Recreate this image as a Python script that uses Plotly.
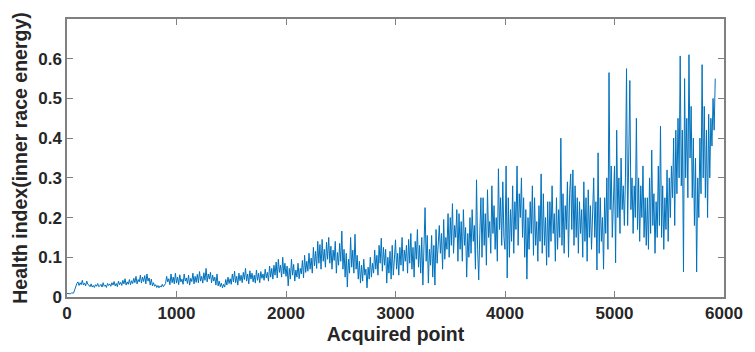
import plotly.graph_objects as go

# Inner race energy health index, one value every 10 acquired points
STEP = 10

hi_0000 = [
    0.009, 0.008, 0.009, 0.008, 0.010, 0.009, 0.010, 0.018, 0.030, 0.034,
    0.038, 0.029, 0.036, 0.031, 0.042, 0.030, 0.035, 0.028, 0.040, 0.032,
    0.030, 0.026, 0.033, 0.025, 0.029, 0.024, 0.031, 0.027, 0.034, 0.026,
    0.028, 0.032, 0.025, 0.036, 0.027, 0.030, 0.024, 0.034, 0.029, 0.033,
    0.027, 0.036, 0.030, 0.039, 0.028, 0.034, 0.026, 0.040, 0.031, 0.037,
    0.029, 0.042, 0.033, 0.046, 0.030, 0.038, 0.032, 0.044, 0.031, 0.041,
    0.034, 0.047, 0.036, 0.052, 0.033, 0.044, 0.038, 0.055, 0.035, 0.050,
    0.039, 0.054, 0.033, 0.058, 0.040, 0.048, 0.030, 0.045, 0.028, 0.036,
    0.027, 0.031, 0.024, 0.029, 0.023, 0.028, 0.025, 0.032, 0.026, 0.030,
    0.034, 0.052, 0.038, 0.046, 0.031, 0.058, 0.036, 0.050, 0.033, 0.060,
]

hi_1000 = [
    0.035, 0.050, 0.031, 0.056, 0.038, 0.045, 0.032, 0.058, 0.040, 0.048,
    0.034, 0.055, 0.030, 0.047, 0.039, 0.060, 0.033, 0.052, 0.037, 0.057,
    0.036, 0.064, 0.040, 0.052, 0.035, 0.061, 0.042, 0.072, 0.038, 0.058,
    0.045, 0.062, 0.036, 0.055, 0.040, 0.050, 0.030, 0.058, 0.028, 0.040,
    0.026, 0.035, 0.023, 0.032, 0.025, 0.044, 0.030, 0.050, 0.034, 0.046,
    0.032, 0.058, 0.038, 0.065, 0.036, 0.052, 0.030, 0.060, 0.041, 0.055,
    0.036, 0.062, 0.044, 0.072, 0.040, 0.058, 0.033, 0.066, 0.045, 0.060,
    0.038, 0.055, 0.035, 0.068, 0.042, 0.060, 0.036, 0.064, 0.047, 0.058,
    0.042, 0.070, 0.048, 0.062, 0.040, 0.078, 0.050, 0.072, 0.045, 0.080,
    0.055, 0.088, 0.048, 0.095, 0.062, 0.080, 0.050, 0.100, 0.058, 0.085,
]

hi_2000 = [
    0.052, 0.078, 0.028, 0.072, 0.045, 0.095, 0.055, 0.082, 0.040, 0.068,
    0.050, 0.085, 0.046, 0.072, 0.058, 0.092, 0.048, 0.105, 0.062, 0.090,
    0.065, 0.110, 0.070, 0.098, 0.060, 0.125, 0.078, 0.115, 0.072, 0.140,
    0.085, 0.132, 0.070, 0.145, 0.090, 0.120, 0.075, 0.138, 0.095, 0.150,
    0.085, 0.128, 0.070, 0.118, 0.092, 0.140, 0.060, 0.112, 0.080, 0.135,
    0.090, 0.166, 0.070, 0.120, 0.050, 0.110, 0.025, 0.095, 0.060, 0.150,
    0.075, 0.118, 0.060, 0.158, 0.070, 0.105, 0.045, 0.090, 0.035, 0.080,
    0.040, 0.095, 0.055, 0.070, 0.023, 0.075, 0.045, 0.100, 0.050, 0.085,
    0.060, 0.118, 0.070, 0.105, 0.055, 0.130, 0.085, 0.148, 0.065, 0.125,
    0.080, 0.120, 0.035, 0.100, 0.060, 0.115, 0.045, 0.130, 0.055, 0.095,
]

hi_3000 = [
    0.144, 0.070, 0.110, 0.055, 0.125, 0.080, 0.150, 0.065, 0.118, 0.090,
    0.130, 0.060, 0.145, 0.085, 0.160, 0.070, 0.125, 0.050, 0.140, 0.095,
    0.170, 0.075, 0.130, 0.060, 0.150, 0.030, 0.140, 0.225, 0.090, 0.155,
    0.035, 0.120, 0.080, 0.155, 0.050, 0.130, 0.030, 0.170, 0.085, 0.145,
    0.180, 0.110, 0.160, 0.070, 0.195, 0.095, 0.150, 0.120, 0.210, 0.100,
    0.200, 0.130, 0.235, 0.110, 0.180, 0.150, 0.220, 0.090, 0.210, 0.120,
    0.190, 0.090, 0.220, 0.130, 0.175, 0.050, 0.160, 0.100, 0.200, 0.110,
    0.220, 0.140, 0.180, 0.070, 0.295, 0.120, 0.043, 0.160, 0.250, 0.100,
    0.250, 0.130, 0.210, 0.080, 0.270, 0.150, 0.190, 0.110, 0.280, 0.160,
    0.230, 0.120, 0.200, 0.090, 0.323, 0.170, 0.250, 0.130, 0.290, 0.150,
]

hi_4000 = [
    0.120, 0.330, 0.048, 0.250, 0.100, 0.220, 0.140, 0.280, 0.110, 0.240,
    0.170, 0.330, 0.130, 0.260, 0.200, 0.300, 0.150, 0.250, 0.100, 0.220,
    0.045, 0.200, 0.120, 0.240, 0.160, 0.280, 0.105, 0.250, 0.130, 0.190,
    0.090, 0.230, 0.140, 0.310, 0.110, 0.260, 0.130, 0.200, 0.080, 0.240,
    0.100, 0.240, 0.140, 0.280, 0.160, 0.210, 0.090, 0.250, 0.120, 0.220,
    0.150, 0.400, 0.130, 0.260, 0.110, 0.230, 0.170, 0.290, 0.100, 0.260,
    0.310, 0.170, 0.320, 0.130, 0.280, 0.150, 0.250, 0.110, 0.240, 0.160,
    0.220, 0.100, 0.290, 0.140, 0.250, 0.090, 0.270, 0.150, 0.230, 0.120,
    0.240, 0.300, 0.150, 0.240, 0.068, 0.363, 0.110, 0.250, 0.140, 0.200,
    0.070, 0.250, 0.160, 0.300, 0.120, 0.565, 0.220, 0.330, 0.150, 0.280,
]

hi_5000 = [
    0.330, 0.086, 0.420, 0.200, 0.300, 0.160, 0.350, 0.220, 0.280, 0.180,
    0.300, 0.575, 0.180, 0.350, 0.545, 0.220, 0.300, 0.160, 0.280, 0.200,
    0.450, 0.170, 0.300, 0.140, 0.280, 0.200, 0.330, 0.150, 0.250, 0.130,
    0.250, 0.120, 0.300, 0.160, 0.370, 0.180, 0.260, 0.110, 0.240, 0.150,
    0.330, 0.180, 0.430, 0.150, 0.280, 0.120, 0.250, 0.170, 0.320, 0.140,
    0.300, 0.200, 0.330, 0.250, 0.400, 0.180, 0.420, 0.260, 0.450, 0.300,
    0.607, 0.280, 0.420, 0.063, 0.550, 0.300, 0.450, 0.250, 0.610, 0.350,
    0.480, 0.250, 0.400, 0.180, 0.350, 0.063, 0.300, 0.200, 0.400, 0.260,
    0.585, 0.300, 0.480, 0.250, 0.420, 0.200, 0.460, 0.300, 0.450, 0.380,
    0.500, 0.420, 0.550,
]

health_index = hi_0000 + hi_1000 + hi_2000 + hi_3000 + hi_4000 + hi_5000
acquired_point = [i * STEP for i in range(len(health_index))]

x_ticks = [0, 1000, 2000, 3000, 4000, 5000, 6000]
y_ticks = [0, 0.1, 0.2, 0.3, 0.4, 0.5, 0.6]

TEXT = "#262626"
AXIS = "#808080"
FONT = "Liberation Sans, Arial, sans-serif"

fig = go.Figure(
    go.Scatter(
        x=acquired_point,
        y=health_index,
        mode="lines",
        line=dict(color="#0072BD", width=1.0),
        showlegend=False,
    )
)

axis_common = dict(
    showline=True,
    linecolor=AXIS,
    linewidth=1.5,
    mirror="ticks",
    ticks="inside",
    ticklen=6,
    tickwidth=1.2,
    tickcolor=AXIS,
    showgrid=False,
    zeroline=False,
    tickfont=dict(family=FONT, size=17, color=TEXT, weight="bold"),
)

fig.update_xaxes(
    range=[0, 6000],
    tickvals=x_ticks,
    ticktext=[str(v) for v in x_ticks],
    title=dict(text="<b>Acquired point</b>", font=dict(family=FONT, size=19.5, color=TEXT), standoff=3),
    **axis_common,
)
fig.update_yaxes(
    range=[0, 0.7],
    tickvals=y_ticks,
    ticktext=["0" if v == 0 else f"{v:.1f}" for v in y_ticks],
    title=dict(text="<b>Health index(inner race energy)</b>", font=dict(family=FONT, size=19.5, color=TEXT), standoff=5),
    **axis_common,
)

fig.update_layout(
    width=755,
    height=352,
    margin=dict(l=67, r=22, t=19, b=55),
    paper_bgcolor="white",
    plot_bgcolor="white",
)

fig.write_html("out.html")
